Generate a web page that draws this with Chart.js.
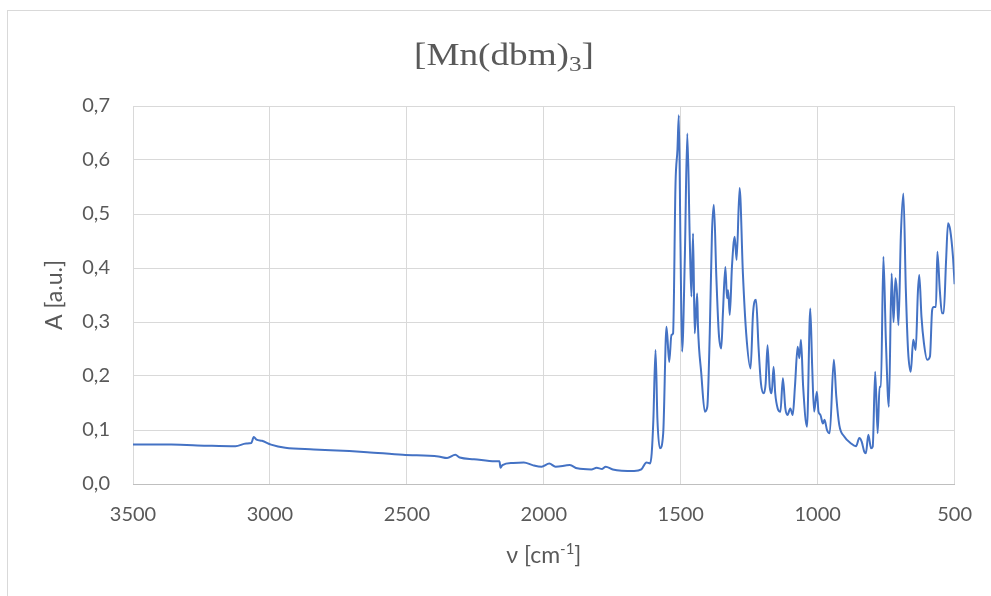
<!DOCTYPE html>
<html>
<head>
<meta charset="utf-8">
<script src="https://cdn.jsdelivr.net/npm/chart.js@4"></script>
<style>
html,body{margin:0;padding:0;background:#fff;}
#wrap{position:relative;width:991px;height:596px;}
</style>
</head>
<body>
<div id="wrap"><canvas id="c"></canvas></div>
<script>
const chartTitle = "[Mn(dbm)";
const chartTitleSub = "3";
const yAxisTitle = "A [a.u.]";
const xAxisTitleMain = "ν [cm";
const xAxisTitleSup = "-1";

const wavenumbers = [
3500,3360,3231,3126,3087,3068,3059,3049,3029,2996,2944,2840,2710,2645,2515,2385,2353,2323,2307,2255,
2178,2162,2158,2151,2112,2073,2041,2008,1980,1957,1905,1878,1826,1807,1787,1774,1748,1670,1644,1625,
1612,1606,1600,1592,1585,1576,1564,1552,1542,1534,1528,1519,1512,1507,1501,1495,1485,1476,1467,1461,
1455,1449,1440,1437,1425,1412,1403,1394,1386,1379,1370,1361,1352,1346,1337,1331,1327,1321,1313,1303,
1296,1285,1273,1261,1245,1236,1225,1216,1207,1197,1190,1183,1175,1168,1161,1155,1146,1136,1127,1118,
1110,1100,1091,1083,1073,1067,1061,1053,1039,1027,1020,1013,1003,997,990,981,975,966,956,941,
932,921,903,878,860,848,839,830,824,815,805,799,790,781,774,769,760,751,740,730,
723,716,711,705,696,687,678,670,660,651,642,634,629,621,612,600,590,582,576,568,
563,554,546,540,531,524,516,506,500
];
const absorbance = [
0.073,0.073,0.071,0.070,0.075,0.076,0.087,0.082,0.080,0.073,0.067,0.064,0.061,0.059,0.054,0.051,0.048,0.054,0.049,0.046,
0.042,0.042,0.030,0.035,0.039,0.040,0.035,0.032,0.038,0.032,0.035,0.029,0.027,0.030,0.028,0.032,0.027,0.024,0.027,0.040,
0.038,0.057,0.118,0.248,0.118,0.066,0.094,0.291,0.226,0.276,0.279,0.557,0.619,0.683,0.446,0.245,0.421,0.649,0.452,0.347,
0.464,0.279,0.353,0.291,0.205,0.134,0.143,0.279,0.464,0.517,0.384,0.279,0.251,0.316,0.402,0.344,0.359,0.313,0.402,0.458,
0.415,0.548,0.390,0.279,0.214,0.316,0.341,0.254,0.186,0.168,0.186,0.257,0.180,0.168,0.217,0.168,0.140,0.134,0.196,0.140,
0.128,0.140,0.128,0.180,0.254,0.233,0.267,0.180,0.106,0.325,0.217,0.134,0.171,0.134,0.128,0.112,0.119,0.100,0.094,0.230,
0.162,0.109,0.088,0.075,0.070,0.085,0.078,0.060,0.057,0.091,0.066,0.069,0.208,0.094,0.180,0.180,0.421,0.267,0.143,0.390,
0.300,0.381,0.359,0.294,0.464,0.538,0.359,0.248,0.208,0.267,0.248,0.356,0.387,0.310,0.261,0.230,0.236,0.322,0.328,0.328,
0.430,0.359,0.316,0.316,0.415,0.483,0.470,0.421,0.370
];
const xTicks = [3500,3000,2500,2000,1500,1000,500];
const yTicks = [0,0.1,0.2,0.3,0.4,0.5,0.6,0.7];

const points = wavenumbers.map((w,i)=>({x:w,y:absorbance[i]}));

const textColor = '#595959';
const gridColor = '#d9d9d9';

const decorPlugin = {
  id:'decor',
  beforeDraw(chart){
    const ctx = chart.ctx;
    ctx.save();
    ctx.strokeStyle = '#d9d9d9';
    ctx.lineWidth = 1;
    ctx.strokeRect(7.5,10.5,1000,1000);
    ctx.restore();
  },
  afterDraw(chart){
    const ctx = chart.ctx;
    ctx.save();
    ctx.fillStyle = textColor;
    // Title (slightly stretched horizontally like the reference)
    const tFont = '31px "Liberation Serif"';
    const sFont = '21px "Liberation Serif"';
    const stretch = 1.2;
    ctx.textBaseline = 'alphabetic';
    ctx.textAlign = 'left';
    ctx.font = tFont;
    const w1 = ctx.measureText(chartTitle).width;
    const w3 = ctx.measureText("]").width;
    ctx.font = sFont;
    const w2 = ctx.measureText(chartTitleSub).width;
    ctx.save();
    ctx.translate(504, 65);
    ctx.scale(stretch, 1);
    let x = -(w1+w2+w3)/2;
    ctx.font = tFont; ctx.fillText(chartTitle, x, 0); x += w1;
    ctx.font = sFont; ctx.fillText(chartTitleSub, x, 6); x += w2;
    ctx.font = tFont; ctx.fillText("]", x, 0);
    ctx.restore();

    // X axis title
    const aFont = '23px Lato';
    const supFont = '15px Lato';
    ctx.font = aFont;
    const a1 = ctx.measureText(xAxisTitleMain).width;
    const a3 = ctx.measureText("]").width;
    ctx.font = supFont;
    const a2 = ctx.measureText(xAxisTitleSup).width;
    const cx = (chart.chartArea.left + chart.chartArea.right)/2;
    let xx = cx - (a1+a2+a3)/2;
    const xb = 563;
    ctx.font = aFont; ctx.fillText(xAxisTitleMain, xx, xb); xx += a1;
    ctx.font = supFont; ctx.fillText(xAxisTitleSup, xx, xb-9); xx += a2;
    ctx.font = aFont; ctx.fillText("]", xx, xb);

    // Y axis title
    const cy = (chart.chartArea.top + chart.chartArea.bottom)/2;
    ctx.translate(62, cy);
    ctx.rotate(-Math.PI/2);
    ctx.textAlign = 'center';
    ctx.font = aFont;
    ctx.fillText(yAxisTitle, 0, 0);
    ctx.restore();
  }
};

new Chart(document.getElementById('c'), {
  type:'line',
  data:{
    datasets:[{
      data: points,
      borderColor:'#4472C4',
      borderWidth:2,
      pointRadius:0,
      fill:false,
      cubicInterpolationMode:'monotone'
    }]
  },
  options:{
    responsive:true,
    maintainAspectRatio:false,
    devicePixelRatio:1,
    animation:false,
    parsing:true,
    layout:{padding:{top:106,right:34,bottom:0,left:0}},
    plugins:{legend:{display:false},tooltip:{enabled:false},title:{display:false}},
    scales:{
      x:{
        type:'linear',
        reverse:true,
        min:500,max:3500,
        afterBuildTicks(s){ s.ticks = xTicks.map(v=>({value:v})); },
        afterFit(s){ s.height = 112; },
        grid:{color:gridColor,drawTicks:false,lineWidth:1},
        border:{color:'#bfbfbf',width:1},
        ticks:{
          color:textColor,
          font:{family:'Lato',size:20},
          padding:19,
          maxRotation:0,
          autoSkip:false,
          callback:v=>String(v)
        }
      },
      y:{
        type:'linear',
        min:0,max:0.7,
        afterBuildTicks(s){ s.ticks = yTicks.map(v=>({value:v})); },
        afterFit(s){ s.width = 133; },
        grid:{color:gridColor,drawTicks:false,lineWidth:1},
        border:{display:false},
        ticks:{
          color:textColor,
          font:{family:'Lato',size:20},
          padding:23,
          autoSkip:false,
          callback:v=>Number(v).toFixed(1).replace('.',',')
        }
      }
    }
  },
  plugins:[decorPlugin]
});
</script>
</body>
</html>
